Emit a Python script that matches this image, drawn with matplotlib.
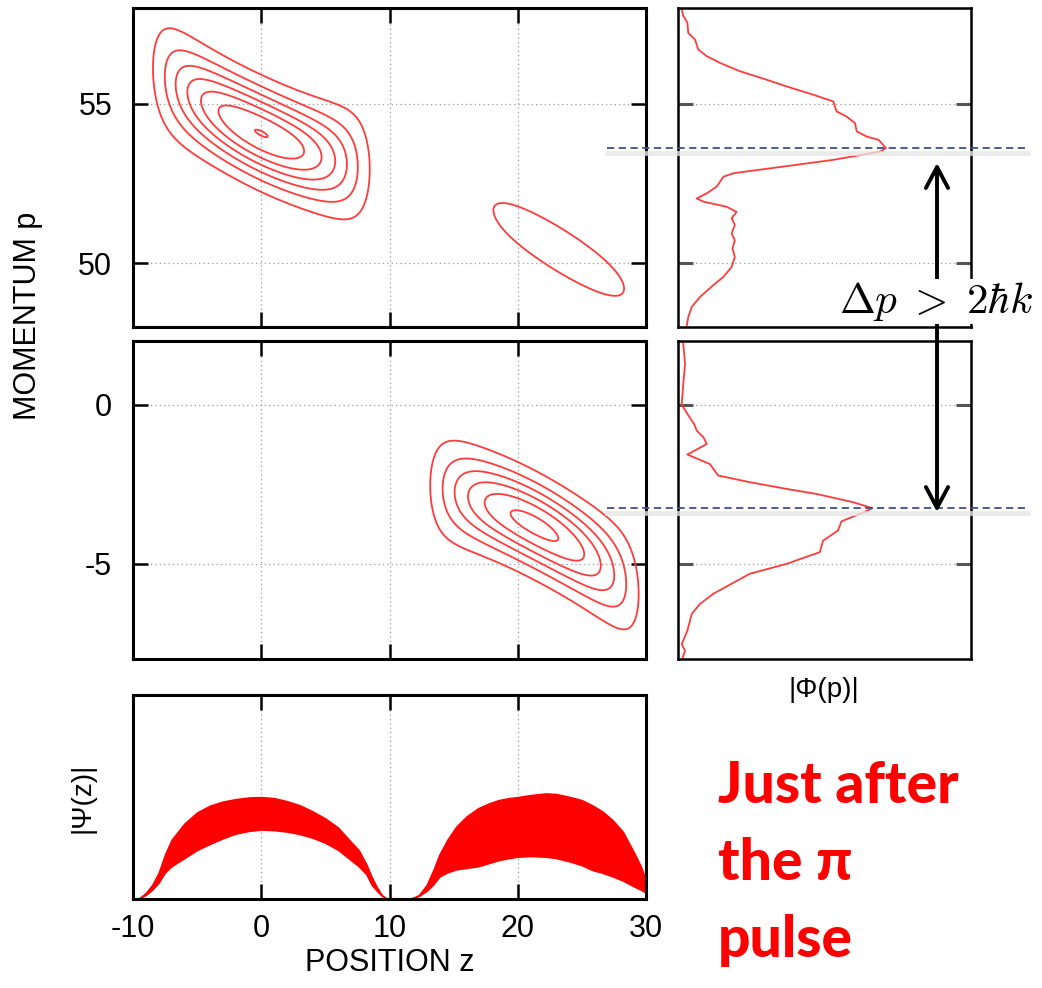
import numpy as np
import matplotlib
matplotlib.use('Agg')
import matplotlib.pyplot as plt
from matplotlib.lines import Line2D
from matplotlib.patches import FancyArrowPatch

W, H = 1042, 988

# ---------------- data ----------------
z_ticks = [-10, 0, 10, 20, 30]
p_ticks_top = [50, 55]
p_ticks_mid = [-5, 0]

# phase-space lobes: centre z, centre p, slope dp/dz, curvature, half-length, p-width, peak height
lobe_zc    = [0.0, 23.3, 21.3]
lobe_pc    = [54.07, 50.40, -3.79]
lobe_slope = [-0.188, -0.24, -0.21]
lobe_curv  = [0.0064, 0.0, -0.007]
lobe_R     = [8.6, 10.2, 8.4]
lobe_s     = [0.93, 0.97, 0.90]
lobe_peak  = [7.02, 1.30, 6.30]
contour_levels = [1, 2, 3, 4, 5, 6, 7]

# |Phi(p)| upper panel
phi_top_p = [57.96, 57.75, 57.54, 57.22, 57.01, 56.70, 56.49, 56.28, 56.02, 55.75,
             55.54, 55.28, 55.07, 54.76, 54.60, 54.39, 54.13, 53.97, 53.87, 53.61,
             53.50, 53.24, 53.03, 52.82, 52.71, 52.40, 52.19, 52.03, 51.93, 51.77,
             51.61, 51.41, 51.20, 50.93, 50.72, 50.46, 50.20, 49.88, 49.57, 49.31,
             48.94, 48.63, 48.31, 48.05]
phi_top_v = [0.013, 0.018, 0.032, 0.035, 0.058, 0.069, 0.098, 0.143, 0.211, 0.303,
             0.371, 0.462, 0.530, 0.541, 0.575, 0.604, 0.610, 0.644, 0.684, 0.710,
             0.690, 0.530, 0.360, 0.189, 0.155, 0.132, 0.098, 0.064, 0.086, 0.166,
             0.200, 0.183, 0.194, 0.183, 0.194, 0.186, 0.194, 0.183, 0.155, 0.120,
             0.075, 0.047, 0.035, 0.030]

# |Phi(p)| lower panel
phi_mid_p = [1.91, 1.28, 0.65, 0.0, -0.29, -0.61, -0.82, -1.03, -1.24, -1.57,
             -1.87, -2.23, -2.44, -2.65, -2.81, -3.07, -3.26, -3.44, -3.67, -3.96,
             -4.28, -4.64, -5.01, -5.32, -5.95, -6.27, -6.58, -7.11, -7.53, -7.74, -7.95]
phi_mid_v = [0.018, 0.024, 0.018, 0.0125, 0.032, 0.055, 0.064, 0.087, 0.098, 0.032,
             0.109, 0.137, 0.245, 0.370, 0.473, 0.598, 0.664, 0.620, 0.558, 0.546,
             0.495, 0.484, 0.370, 0.245, 0.120, 0.075, 0.047, 0.032, 0.0125, 0.024, 0.016]

# |Psi(z)| envelopes of the fast-oscillating band
psi_z = [-10, -9.6, -9.0, -8.5, -8.0, -7.5, -7.0, -6.0, -5.0, -4.0, -3.0, -2.0, -1.0, 0,
         1, 2, 3, 4, 5, 6, 7, 7.6, 8.2, 8.6, 9.0, 9.4, 9.7, 10,
         11.6, 12.3, 12.9, 13.4, 13.9, 14.5, 15.2, 16, 16.9, 17.7, 18.5, 19.3, 20, 21,
         22.2, 23, 24.1, 25, 25.8, 26.6, 27.4, 28.2, 29.1, 29.6, 30]
psi_upper = [0, 0, 0.03, 0.07, 0.13, 0.22, 0.29, 0.37, 0.425, 0.458, 0.478, 0.49, 0.498, 0.50,
             0.495, 0.48, 0.46, 0.43, 0.395, 0.35, 0.28, 0.24, 0.17, 0.11, 0.06, 0.02, 0.005, 0,
             0, 0.02, 0.07, 0.14, 0.22, 0.29, 0.355, 0.405, 0.445, 0.468, 0.485, 0.495, 0.50, 0.51,
             0.518, 0.515, 0.50, 0.485, 0.46, 0.43, 0.387, 0.33, 0.224, 0.16, 0.095]
psi_lower = [0, 0, 0.02, 0.045, 0.08, 0.13, 0.16, 0.20, 0.24, 0.27, 0.297, 0.32, 0.333, 0.34,
             0.337, 0.33, 0.318, 0.30, 0.275, 0.24, 0.19, 0.16, 0.12, 0.07, 0.04, 0.015, 0.003, 0,
             0, 0.015, 0.04, 0.07, 0.11, 0.13, 0.145, 0.152, 0.16, 0.175, 0.19, 0.20, 0.207, 0.21,
             0.207, 0.20, 0.183, 0.165, 0.142, 0.128, 0.11, 0.09, 0.06, 0.045, 0.03]

p_peak_top = 53.61
p_peak_mid = -3.26

# ---------------- style ----------------
plt.rcParams['font.family'] = ['Liberation Sans', 'DejaVu Sans']
plt.rcParams['mathtext.fontset'] = 'cm'
plt.rcParams['axes.unicode_minus'] = False

RED = '#ff3c3c'
GRID = dict(color='#9a9a9a', linestyle=(0, (1, 2.5)), linewidth=0.9)

fig = plt.figure(figsize=(W / 100, H / 100), dpi=100)


def ax_px(x0, y0, x1, y1):
    return fig.add_axes([x0 / W, 1 - y1 / H, (x1 - x0) / W, (y1 - y0) / H])


ax1 = ax_px(133, 8, 646, 327)
ax2 = ax_px(133, 341, 646, 659)
ax3 = ax_px(133, 695, 646, 899)
axr1 = ax_px(678, 8, 971, 327)
axr2 = ax_px(678, 341, 971, 659)


def lobe_field(Z, P, i, eps=0.25):
    dz = Z - lobe_zc[i]
    d = dz / lobe_R[i]
    q = 1 - d ** 2
    prof = 0.5 * (q + np.sqrt(q * q + eps * eps))
    prof0 = 0.5 * (1 + np.sqrt(1 + eps * eps))
    dd = np.minimum(d ** 2, 1.4)
    s = lobe_s[i] * (1 + 0.2 * dd + 0.35 * dd ** 2)
    centre = lobe_pc[i] + lobe_slope[i] * dz + lobe_curv[i] * dz ** 2
    return lobe_peak[i] * prof / prof0 * np.exp(-0.5 * ((P - centre) / s) ** 2)


zg = np.linspace(-10, 30, 801)
pg_top = np.linspace(48, 58, 401)
pg_mid = np.linspace(-8, 2, 401)
Zt, Pt = np.meshgrid(zg, pg_top)
Zm, Pm = np.meshgrid(zg, pg_mid)
F_top = lobe_field(Zt, Pt, 0) + lobe_field(Zt, Pt, 1)
F_mid = lobe_field(Zm, Pm, 2)

ax1.contour(zg, pg_top, F_top, levels=contour_levels, colors=RED, linewidths=1.3)
ax2.contour(zg, pg_mid, F_mid, levels=contour_levels, colors=RED, linewidths=1.3)
ax1.set_ylim(48, 58)
ax2.set_ylim(-8, 2)
ax1.set_yticks(p_ticks_top)
ax2.set_yticks(p_ticks_mid)

ax3.fill_between(psi_z, psi_lower, psi_upper, color='#ff0000', linewidth=1.0, edgecolor='#ff0000')
ax3.set_ylim(0, 1)

for ax in (ax1, ax2, ax3):
    ax.set_xlim(-10, 30)
    ax.set_xticks(z_ticks)
    ax.set_axisbelow(True)
    ax.tick_params(axis='both', direction='in', length=11, width=1.8, top=True, right=True,
                   labelsize=22, pad=15, colors='black')
    ax.tick_params(axis='x', pad=11)
    for sp in ax.spines.values():
        sp.set_linewidth(2.2)
for ax in (ax1, ax2):
    ax.tick_params(axis='x', labelbottom=False)
    ax.grid(True, **GRID)
ax3.tick_params(axis='y', left=False, right=False, labelleft=False)
ax3.set_yticks([])
ax3.grid(True, axis='x', **GRID)

for axr, pt, yl, pv, vv in ((axr1, p_ticks_top, (48, 58), phi_top_p, phi_top_v),
                            (axr2, p_ticks_mid, (-8, 2), phi_mid_p, phi_mid_v)):
    axr.plot(vv, pv, color=RED, lw=1.3)
    axr.set_xlim(0, 1)
    axr.set_ylim(*yl)
    axr.set_xticks([])
    axr.set_yticks(pt)
    axr.set_axisbelow(True)
    axr.tick_params(axis='y', direction='in', length=11, width=2.2, color='#555555',
                    left=True, right=True, labelleft=False)
    axr.grid(True, axis='y', **GRID)
    for sp in axr.spines.values():
        sp.set_linewidth(1.8)

# ---------------- labels ----------------
fig.text(28 / W, 1 - 316 / H, 'MOMENTUM p', rotation=90, ha='center', va='center', fontsize=22)
fig.text(390 / W, 1 - 963 / H, 'POSITION z', ha='center', va='center', fontsize=22)
fig.text(82 / W, 1 - 798 / H, '|Ψ(z)|', rotation=90, ha='center', va='center', fontsize=20)
fig.text(824 / W, 1 - 690 / H, '|Φ(p)|', ha='center', va='center', fontsize=20)

# ---------------- annotations ----------------
inv = fig.transFigure.inverted()


def fig_y(ax, p):
    return inv.transform(ax.transData.transform((0.5, p)))[1]


x0f, x1f = 607 / W, 1028 / W
for ax, pk in ((axr1, p_peak_top), (axr2, p_peak_mid)):
    yf = fig_y(ax, pk)
    fig.add_artist(Line2D([x0f, x1f], [yf - 5 / H, yf - 5 / H], transform=fig.transFigure,
                          color='#e6e6e6', lw=3.5, alpha=0.8, zorder=3))
    fig.add_artist(Line2D([x0f, x1f], [yf, yf], transform=fig.transFigure,
                          color='#3d5080', lw=1.3, linestyle=(0, (4, 2.5)), zorder=4))

arrow = FancyArrowPatch((937 / W, 1 - 512 / H), (937 / W, 1 - 163 / H), transform=fig.transFigure,
                        arrowstyle='<->,head_length=0.75,head_width=0.4', mutation_scale=20,
                        lw=2.8, color='black', shrinkA=0, shrinkB=0, zorder=5)
fig.add_artist(arrow)
fig.text(935.5 / W, 1 - 313 / H, r'$\Delta p \;>\; 2\hbar k$', fontsize=31, ha='center',
         va='baseline', bbox=dict(facecolor='white', edgecolor='none', pad=0.5), zorder=6)

for txt, yb in (('Just after', 803), ('the π', 880), ('pulse', 957)):
    fig.text(718 / W, 1 - yb / H, txt, fontsize=41, color='#ff0000', ha='left', va='baseline',
             family=['Lato', 'DejaVu Sans'], fontweight='black')

fig.savefig('out.png', dpi=100)
